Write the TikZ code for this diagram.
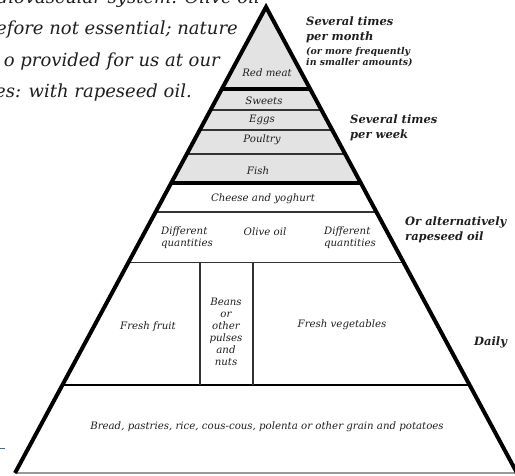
\documentclass[tikz,border=0pt]{standalone}
\usepackage{fontspec}
\setmainfont{DejaVu Serif}
\usetikzlibrary{calc}
\definecolor{fillgray}{gray}{0.89}
\definecolor{pagetext}{gray}{0.12}
\definecolor{pageblue}{RGB}{40,110,190}

\begin{document}
\begin{tikzpicture}[x=1pt, y=-1pt,
  food/.style={font=\fontsize{10.2}{12}\selectfont\itshape, align=center,
               inner sep=0pt, text=pagetext},
  freq/.style={font=\fontsize{11.5}{15}\selectfont\bfseries\itshape, align=left,
               anchor=north west, inner sep=0pt, text=pagetext},
  note/.style={font=\fontsize{9.4}{11.5}\selectfont\bfseries\itshape, align=left,
               anchor=north west, inner sep=0pt, text=pagetext},
  para/.style={font=\fontsize{18}{20}\selectfont\itshape, anchor=east,
               inner sep=0pt, text=pagetext},
  outline/.style={line width=4pt, line join=miter},
  heavy/.style={line width=3.5pt},
  light/.style={line width=1.2pt, draw=black!80}]

  \useasboundingbox (0,0) rectangle (515,475);
  \clip (0,0) rectangle (515,475);

  % pyramid corners and levels
  \coordinate (apex) at (266,7);
  \coordinate (bl)   at (15,473);
  \coordinate (br)   at (517,473);
  \foreach \n/\p in {meat/0.176, sweets/0.221, eggs/0.264, poultry/0.3155,
                     fish/0.378, cheese/0.440, oil/0.549, veg/0.811}{
    \coordinate (\n-l) at ($(apex)!\p!(bl)$);
    \coordinate (\n-r) at ($(apex)!\p!(br)$);
  }

  \fill[fillgray] (apex) -- (fish-l) -- (fish-r) -- cycle;

  \foreach \n in {sweets, eggs, poultry, cheese, oil}
    \draw[light] (\n-l) -- (\n-r);
  \draw[line width=1.8pt] (veg-l) -- (veg-r);
  \draw[heavy] (meat-l) -- (meat-r);
  \draw[heavy] (fish-l) -- (fish-r);
  \draw[light] (200,263) -- (200,385);
  \draw[light] (253,263) -- (253,385);
  \draw[line width=1.2pt, draw=black!40] (bl) -- (br);
  \draw[outline] (bl) -- (apex) -- (br);

  % food groups
  \node[food] (meat)    at (267,73)  {Red meat};
  \node[food] (sweets)  at (264,101) {Sweets};
  \node[food] (eggs)    at (262,120) {Eggs};
  \node[food] (poultry) at (262,140) {Poultry};
  \node[food] (fish)    at (258,171) {Fish};
  \node[food] (cheese)  at (263,199) {Cheese and yoghurt};
  \node[food, align=left] (diffl) at (187,238) {Different\\quantities};
  \node[food] (olive)   at (265,232) {Olive oil};
  \node[food, align=left] (diffr) at (350,238) {Different\\quantities};
  \node[food] (fruit)   at (148,327) {Fresh fruit};
  \node[food] (beans)   at (226,332) {Beans\\or\\other\\pulses\\and\\nuts};
  \node[food] (veg)     at (342,325) {Fresh vegetables};
  \node[food] (bread)   at (267,427)
    {Bread, pastries, rice, cous-cous, polenta or other grain and potatoes};

  % frequencies
  \node[freq] (month)  at (306,17)  {Several times\\per month};
  \node[note] (mnote)  at (306,47)  {(or more frequently\\in smaller amounts)};
  \node[freq] (week)   at (350,115) {Several times\\per week};
  \node[freq] (rape)   at (405,217) {Or alternatively\\rapeseed oil};
  \node[freq] (daily)  at (474,337) {Daily};

  % page text cut off at the left
  \node[para] (par1) at (260,-1) {diovascular system. Olive oil};
  \node[para] (par2) at (238,30) {efore not essential; nature};
  \node[para] (par3) at (220,62) {o provided for us at our};
  \node[para] (par4) at (192,93) {es: with rapeseed oil.};
  \draw[pageblue, line width=1pt] (0,448) -- (5,448);
\end{tikzpicture}
\end{document}
